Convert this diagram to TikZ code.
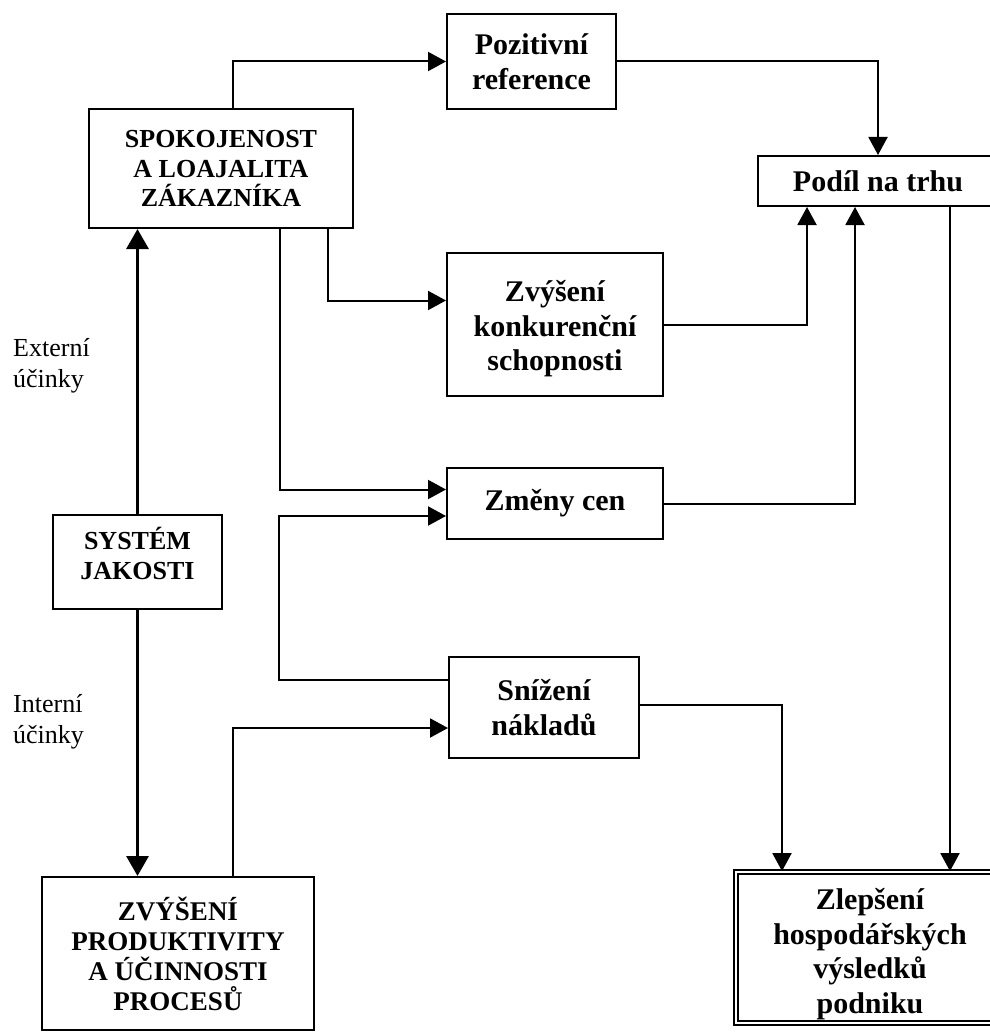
\documentclass[tikz,border=0pt]{standalone}
\usepackage{fontspec}
\setmainfont{Liberation Serif}
\usetikzlibrary{arrows.meta}
\usetikzlibrary{calc}

% move the lines of a box up or down, keeping its size
\newcommand{\shiftlines}[2]{\raisebox{#1}[\height][\depth]{\begin{tabular}{@{}c@{}}#2\end{tabular}}}

\tikzset{
  box/.style={draw, line width=2pt, align=center, inner sep=0pt,
    font=\bfseries\fontsize{30}{34.5}\selectfont},
  capbox/.style={box, font=\bfseries\fontsize{26}{29.5}\selectfont},
  arr/.style={line width=2pt, -{Triangle[length=18pt,width=19pt]}},
  bigarr/.style={line width=3pt, -{Triangle[length=20pt,width=22pt]}},
  note/.style={align=left, inner sep=0pt, anchor=west,
    font=\fontsize{26}{31}\selectfont}
}

\begin{document}
\begin{tikzpicture}[x=1pt,y=-1pt]
\useasboundingbox (0,0) rectangle (989,1035);
% boxes
\node[box, minimum width=169pt, minimum height=95pt] (poz) at (531.5,61.5) {Pozitivní\\reference};
\node[capbox, minimum width=264pt, minimum height=119pt] (spok) at (221,168.5) {SPOKOJENOST\\A LOAJALITA\\ZÁKAZNÍKA};
\node[box, minimum width=240pt, minimum height=50pt] (podil) at (878,181) {Podíl na trhu};
\node[box, minimum width=216pt, minimum height=143pt] (zvk) at (555,324.5) {\shiftlines{-5pt}{Zvýšení\\konkurenční\\schopnosti}};
\node[box, minimum width=216pt, minimum height=71pt] (zmeny) at (555,503.5) {Změny cen};
\node[box, minimum width=190pt, minimum height=101pt] (snizeni) at (544,707.5) {Snížení\\nákladů};
\node[capbox, minimum width=169pt, minimum height=94pt] (system) at (137.5,562) {\shiftlines{4pt}{SYSTÉM\\JAKOSTI}};
\node[capbox, font=\bfseries\fontsize{27}{30}\selectfont, minimum width=272pt, minimum height=153pt] (produkt) at (178,953.5) {ZVÝŠENÍ\\PRODUKTIVITY\\A ÚČINNOSTI\\PROCESŮ};
\node[box, line width=1.8pt, double, double distance=2pt, minimum width=268pt, minimum height=151pt] (zlep) at (870,947.5) {\shiftlines{-7pt}{Zlepšení\\hospodářských\\výsledků\\podniku}};
% side labels
\node[note] (ext) at (13,366) {Externí\\účinky};
\node[note] (int) at (13,722) {Interní\\účinky};
% connectors
\draw[arr] ($(spok.north)+(12,0)$) |- (poz.west);
\draw[arr] (poz.east) -| (podil.north);
\draw[arr] ($(spok.south)+(107,0)$) |- ($(zvk.west)+(0,-24)$);
\draw[arr] ($(spok.south)+(59,0)$) |- ($(zmeny.west)+(0,-14)$);
\draw[arr] ($(snizeni.west)+(0,-27.5)$) -- ++(-169,0) |- ($(zmeny.west)+(0,12.5)$);
\draw[arr] ($(produkt.north)+(55,0)$) |- ($(snizeni.west)+(0,20.5)$);
\draw[arr] (zvk.east) -| ($(podil.south)+(-71,0)$);
\draw[arr] (zmeny.east) -| ($(podil.south)+(-23,0)$);
\draw[arr] ($(snizeni.east)+(0,-3)$) -| ($(zlep.north)+(-88,0)$);
\draw[arr] ($(podil.south)+(72,0)$) -- ($(zlep.north)+(80,0)$);
\draw[bigarr] (system.north) -- (system.north |- spok.south);
\draw[bigarr] (system.south) -- (system.south |- produkt.north);
\end{tikzpicture}
\end{document}
